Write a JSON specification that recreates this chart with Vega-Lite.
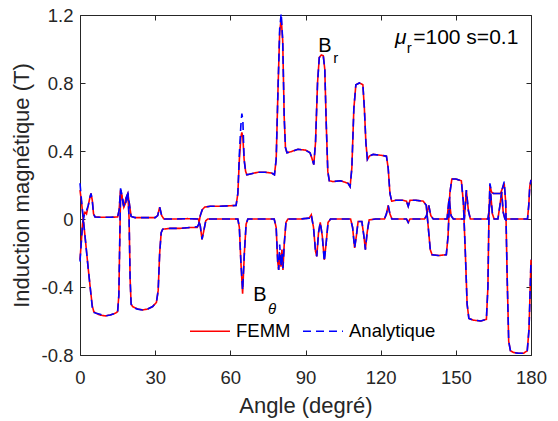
{
  "$schema": "https://vega.github.io/schema/vega-lite/v6.json",
  "width": 451,
  "height": 340,
  "autosize": {"type": "none"},
  "padding": {"left": 80, "top": 15, "right": 27, "bottom": 66},
  "background": "white",
  "config": {
    "font": "Liberation Sans",
    "view": {"stroke": null},
    "axis": {
      "grid": false,
      "domainColor": "#262626",
      "domainWidth": 1,
      "tickColor": "#262626",
      "tickWidth": 1,
      "tickSize": -5,
      "labelFlush": false,
      "labelColor": "#262626",
      "labelFontSize": 18.5,
      "labelFont": "Liberation Sans",
      "titleColor": "#262626",
      "titleFontSize": 22,
      "titleFontWeight": "normal",
      "titleFont": "Liberation Sans"
    },
    "legend": {
      "orient": "none",
      "legendX": 109,
      "legendY": 295,
      "direction": "horizontal",
      "symbolType": "stroke",
      "symbolSize": 1600,
      "symbolStrokeWidth": 1.6,
      "labelFontSize": 18.5,
      "labelColor": "#000000",
      "labelOffset": 5,
      "columnPadding": 8,
      "padding": 0
    }
  },
  "datasets": {
    "curves": [
      {"angle": 0, "comp": "Br", "FEMM": 0.17, "Analytique": 0.21},
      {"angle": 0.6, "comp": "Br", "FEMM": 0.1, "Analytique": 0.11},
      {"angle": 1.3, "comp": "Br", "FEMM": 0.0, "Analytique": 0.0},
      {"angle": 2.2, "comp": "Br", "FEMM": -0.13, "Analytique": -0.13},
      {"angle": 3.2, "comp": "Br", "FEMM": -0.28, "Analytique": -0.28},
      {"angle": 4.2, "comp": "Br", "FEMM": -0.42, "Analytique": -0.42},
      {"angle": 4.9, "comp": "Br", "FEMM": -0.51, "Analytique": -0.52},
      {"angle": 5.5, "comp": "Br", "FEMM": -0.545, "Analytique": -0.55},
      {"angle": 6.5, "comp": "Br", "FEMM": -0.555, "Analytique": -0.555},
      {"angle": 8, "comp": "Br", "FEMM": -0.565, "Analytique": -0.56},
      {"angle": 10, "comp": "Br", "FEMM": -0.57, "Analytique": -0.57},
      {"angle": 12, "comp": "Br", "FEMM": -0.565, "Analytique": -0.565},
      {"angle": 14, "comp": "Br", "FEMM": -0.555, "Analytique": -0.555},
      {"angle": 15.0, "comp": "Br", "FEMM": -0.545, "Analytique": -0.55},
      {"angle": 15.5, "comp": "Br", "FEMM": -0.45, "Analytique": -0.45},
      {"angle": 15.9, "comp": "Br", "FEMM": -0.1, "Analytique": -0.1},
      {"angle": 16.2, "comp": "Br", "FEMM": 0.15, "Analytique": 0.17},
      {"angle": 16.6, "comp": "Br", "FEMM": 0.14, "Analytique": 0.15},
      {"angle": 17.5, "comp": "Br", "FEMM": 0.07, "Analytique": 0.07},
      {"angle": 18.3, "comp": "Br", "FEMM": 0.1, "Analytique": 0.1},
      {"angle": 19.1, "comp": "Br", "FEMM": 0.15, "Analytique": 0.16},
      {"angle": 19.6, "comp": "Br", "FEMM": 0.0, "Analytique": 0.0},
      {"angle": 20.0, "comp": "Br", "FEMM": -0.35, "Analytique": -0.35},
      {"angle": 20.4, "comp": "Br", "FEMM": -0.5, "Analytique": -0.5},
      {"angle": 21, "comp": "Br", "FEMM": -0.515, "Analytique": -0.52},
      {"angle": 23, "comp": "Br", "FEMM": -0.53, "Analytique": -0.53},
      {"angle": 25, "comp": "Br", "FEMM": -0.535, "Analytique": -0.535},
      {"angle": 27, "comp": "Br", "FEMM": -0.53, "Analytique": -0.53},
      {"angle": 29, "comp": "Br", "FEMM": -0.515, "Analytique": -0.515},
      {"angle": 30.5, "comp": "Br", "FEMM": -0.49, "Analytique": -0.49},
      {"angle": 31.2, "comp": "Br", "FEMM": -0.42, "Analytique": -0.42},
      {"angle": 31.8, "comp": "Br", "FEMM": -0.2, "Analytique": -0.2},
      {"angle": 32.4, "comp": "Br", "FEMM": -0.08, "Analytique": -0.08},
      {"angle": 33, "comp": "Br", "FEMM": -0.06, "Analytique": -0.06},
      {"angle": 36, "comp": "Br", "FEMM": -0.055, "Analytique": -0.055},
      {"angle": 40, "comp": "Br", "FEMM": -0.055, "Analytique": -0.055},
      {"angle": 44, "comp": "Br", "FEMM": -0.05, "Analytique": -0.05},
      {"angle": 46.8, "comp": "Br", "FEMM": -0.05, "Analytique": -0.045},
      {"angle": 47.4, "comp": "Br", "FEMM": -0.03, "Analytique": -0.03},
      {"angle": 48.0, "comp": "Br", "FEMM": 0.02, "Analytique": 0.02},
      {"angle": 48.8, "comp": "Br", "FEMM": 0.055, "Analytique": 0.055},
      {"angle": 49.8, "comp": "Br", "FEMM": 0.07, "Analytique": 0.07},
      {"angle": 52, "comp": "Br", "FEMM": 0.075, "Analytique": 0.075},
      {"angle": 56, "comp": "Br", "FEMM": 0.075, "Analytique": 0.075},
      {"angle": 60, "comp": "Br", "FEMM": 0.078, "Analytique": 0.078},
      {"angle": 62.3, "comp": "Br", "FEMM": 0.08, "Analytique": 0.08},
      {"angle": 63.0, "comp": "Br", "FEMM": 0.15, "Analytique": 0.15},
      {"angle": 63.6, "comp": "Br", "FEMM": 0.35, "Analytique": 0.38},
      {"angle": 64.2, "comp": "Br", "FEMM": 0.48, "Analytique": 0.55},
      {"angle": 64.6, "comp": "Br", "FEMM": 0.51, "Analytique": 0.62},
      {"angle": 65.0, "comp": "Br", "FEMM": 0.48, "Analytique": 0.58},
      {"angle": 65.5, "comp": "Br", "FEMM": 0.35, "Analytique": 0.35},
      {"angle": 66.1, "comp": "Br", "FEMM": 0.28, "Analytique": 0.28},
      {"angle": 66.6, "comp": "Br", "FEMM": 0.26, "Analytique": 0.26},
      {"angle": 68, "comp": "Br", "FEMM": 0.265, "Analytique": 0.265},
      {"angle": 71, "comp": "Br", "FEMM": 0.275, "Analytique": 0.275},
      {"angle": 74, "comp": "Br", "FEMM": 0.275, "Analytique": 0.275},
      {"angle": 76.5, "comp": "Br", "FEMM": 0.27, "Analytique": 0.27},
      {"angle": 77.6, "comp": "Br", "FEMM": 0.26, "Analytique": 0.26},
      {"angle": 78.3, "comp": "Br", "FEMM": 0.35, "Analytique": 0.35},
      {"angle": 79.0, "comp": "Br", "FEMM": 0.75, "Analytique": 0.75},
      {"angle": 79.7, "comp": "Br", "FEMM": 1.1, "Analytique": 1.12},
      {"angle": 80.3, "comp": "Br", "FEMM": 1.18, "Analytique": 1.21},
      {"angle": 80.9, "comp": "Br", "FEMM": 1.05, "Analytique": 1.05},
      {"angle": 81.5, "comp": "Br", "FEMM": 0.6, "Analytique": 0.6},
      {"angle": 82.0, "comp": "Br", "FEMM": 0.42, "Analytique": 0.42},
      {"angle": 82.6, "comp": "Br", "FEMM": 0.39, "Analytique": 0.39},
      {"angle": 84, "comp": "Br", "FEMM": 0.395, "Analytique": 0.395},
      {"angle": 87, "comp": "Br", "FEMM": 0.41, "Analytique": 0.41},
      {"angle": 90, "comp": "Br", "FEMM": 0.405, "Analytique": 0.405},
      {"angle": 91.8, "comp": "Br", "FEMM": 0.39, "Analytique": 0.39},
      {"angle": 92.5, "comp": "Br", "FEMM": 0.36, "Analytique": 0.36},
      {"angle": 93.3, "comp": "Br", "FEMM": 0.32, "Analytique": 0.32},
      {"angle": 94.0, "comp": "Br", "FEMM": 0.45, "Analytique": 0.45},
      {"angle": 94.8, "comp": "Br", "FEMM": 0.8, "Analytique": 0.8},
      {"angle": 95.5, "comp": "Br", "FEMM": 0.95, "Analytique": 0.95},
      {"angle": 96.3, "comp": "Br", "FEMM": 0.965, "Analytique": 0.965},
      {"angle": 97.1, "comp": "Br", "FEMM": 0.96, "Analytique": 0.96},
      {"angle": 97.7, "comp": "Br", "FEMM": 0.88, "Analytique": 0.88},
      {"angle": 98.3, "comp": "Br", "FEMM": 0.55, "Analytique": 0.55},
      {"angle": 98.9, "comp": "Br", "FEMM": 0.28, "Analytique": 0.28},
      {"angle": 99.5, "comp": "Br", "FEMM": 0.225, "Analytique": 0.225},
      {"angle": 101, "comp": "Br", "FEMM": 0.22, "Analytique": 0.22},
      {"angle": 104, "comp": "Br", "FEMM": 0.225, "Analytique": 0.225},
      {"angle": 107, "comp": "Br", "FEMM": 0.21, "Analytique": 0.21},
      {"angle": 107.8, "comp": "Br", "FEMM": 0.19, "Analytique": 0.19},
      {"angle": 108.5, "comp": "Br", "FEMM": 0.3, "Analytique": 0.3},
      {"angle": 109.3, "comp": "Br", "FEMM": 0.65, "Analytique": 0.65},
      {"angle": 110.1, "comp": "Br", "FEMM": 0.79, "Analytique": 0.79},
      {"angle": 111.5, "comp": "Br", "FEMM": 0.8, "Analytique": 0.8},
      {"angle": 112.9, "comp": "Br", "FEMM": 0.79, "Analytique": 0.79},
      {"angle": 113.5, "comp": "Br", "FEMM": 0.65, "Analytique": 0.65},
      {"angle": 114.1, "comp": "Br", "FEMM": 0.45, "Analytique": 0.45},
      {"angle": 114.7, "comp": "Br", "FEMM": 0.35, "Analytique": 0.35},
      {"angle": 115.5, "comp": "Br", "FEMM": 0.37, "Analytique": 0.37},
      {"angle": 117, "comp": "Br", "FEMM": 0.38, "Analytique": 0.38},
      {"angle": 120, "comp": "Br", "FEMM": 0.375, "Analytique": 0.375},
      {"angle": 122.3, "comp": "Br", "FEMM": 0.37, "Analytique": 0.37},
      {"angle": 123.0, "comp": "Br", "FEMM": 0.3, "Analytique": 0.3},
      {"angle": 123.7, "comp": "Br", "FEMM": 0.15, "Analytique": 0.15},
      {"angle": 124.4, "comp": "Br", "FEMM": 0.105, "Analytique": 0.105},
      {"angle": 126, "comp": "Br", "FEMM": 0.11, "Analytique": 0.11},
      {"angle": 129, "comp": "Br", "FEMM": 0.11, "Analytique": 0.11},
      {"angle": 130.3, "comp": "Br", "FEMM": 0.105, "Analytique": 0.105},
      {"angle": 131.0, "comp": "Br", "FEMM": 0.075, "Analytique": 0.075},
      {"angle": 131.7, "comp": "Br", "FEMM": 0.11, "Analytique": 0.11},
      {"angle": 134, "comp": "Br", "FEMM": 0.11, "Analytique": 0.11},
      {"angle": 137, "comp": "Br", "FEMM": 0.105, "Analytique": 0.105},
      {"angle": 138.2, "comp": "Br", "FEMM": 0.08, "Analytique": 0.08},
      {"angle": 139.0, "comp": "Br", "FEMM": -0.05, "Analytique": -0.05},
      {"angle": 139.8, "comp": "Br", "FEMM": -0.18, "Analytique": -0.18},
      {"angle": 140.5, "comp": "Br", "FEMM": -0.21, "Analytique": -0.21},
      {"angle": 143, "comp": "Br", "FEMM": -0.215, "Analytique": -0.215},
      {"angle": 146.2, "comp": "Br", "FEMM": -0.21, "Analytique": -0.21},
      {"angle": 146.9, "comp": "Br", "FEMM": -0.1, "Analytique": -0.1},
      {"angle": 147.6, "comp": "Br", "FEMM": 0.15, "Analytique": 0.15},
      {"angle": 148.4, "comp": "Br", "FEMM": 0.235, "Analytique": 0.235},
      {"angle": 150, "comp": "Br", "FEMM": 0.235, "Analytique": 0.235},
      {"angle": 152.2, "comp": "Br", "FEMM": 0.225, "Analytique": 0.225},
      {"angle": 153.0, "comp": "Br", "FEMM": 0.1, "Analytique": 0.1},
      {"angle": 153.8, "comp": "Br", "FEMM": -0.2, "Analytique": -0.2},
      {"angle": 154.5, "comp": "Br", "FEMM": -0.5, "Analytique": -0.5},
      {"angle": 155.2, "comp": "Br", "FEMM": -0.585, "Analytique": -0.585},
      {"angle": 157, "comp": "Br", "FEMM": -0.595, "Analytique": -0.595},
      {"angle": 160, "comp": "Br", "FEMM": -0.6, "Analytique": -0.6},
      {"angle": 162.2, "comp": "Br", "FEMM": -0.59, "Analytique": -0.59},
      {"angle": 162.8, "comp": "Br", "FEMM": -0.4, "Analytique": -0.4},
      {"angle": 163.2, "comp": "Br", "FEMM": 0.0, "Analytique": 0.0},
      {"angle": 163.6, "comp": "Br", "FEMM": 0.2, "Analytique": 0.21},
      {"angle": 164.2, "comp": "Br", "FEMM": 0.16, "Analytique": 0.16},
      {"angle": 165, "comp": "Br", "FEMM": 0.15, "Analytique": 0.15},
      {"angle": 166.5, "comp": "Br", "FEMM": 0.15, "Analytique": 0.15},
      {"angle": 167.8, "comp": "Br", "FEMM": 0.15, "Analytique": 0.15},
      {"angle": 168.6, "comp": "Br", "FEMM": 0.18, "Analytique": 0.18},
      {"angle": 169.3, "comp": "Br", "FEMM": 0.21, "Analytique": 0.22},
      {"angle": 169.9, "comp": "Br", "FEMM": 0.1, "Analytique": 0.1},
      {"angle": 170.5, "comp": "Br", "FEMM": -0.35, "Analytique": -0.35},
      {"angle": 171.1, "comp": "Br", "FEMM": -0.72, "Analytique": -0.72},
      {"angle": 171.8, "comp": "Br", "FEMM": -0.775, "Analytique": -0.775},
      {"angle": 173, "comp": "Br", "FEMM": -0.785, "Analytique": -0.785},
      {"angle": 175, "comp": "Br", "FEMM": -0.79, "Analytique": -0.79},
      {"angle": 177, "comp": "Br", "FEMM": -0.79, "Analytique": -0.79},
      {"angle": 178.5, "comp": "Br", "FEMM": -0.775, "Analytique": -0.775},
      {"angle": 179.2, "comp": "Br", "FEMM": -0.65, "Analytique": -0.65},
      {"angle": 179.6, "comp": "Br", "FEMM": -0.45, "Analytique": -0.45},
      {"angle": 180, "comp": "Br", "FEMM": -0.24, "Analytique": -0.24},
      {"angle": 0, "comp": "Bt", "FEMM": -0.24, "Analytique": -0.25},
      {"angle": 0.5, "comp": "Bt", "FEMM": -0.14, "Analytique": -0.14},
      {"angle": 1.0, "comp": "Bt", "FEMM": -0.03, "Analytique": -0.03},
      {"angle": 1.5, "comp": "Bt", "FEMM": 0.02, "Analytique": 0.01},
      {"angle": 2.0, "comp": "Bt", "FEMM": 0.04, "Analytique": 0.04},
      {"angle": 2.6, "comp": "Bt", "FEMM": 0.03, "Analytique": 0.05},
      {"angle": 3.3, "comp": "Bt", "FEMM": 0.08, "Analytique": 0.08},
      {"angle": 4.0, "comp": "Bt", "FEMM": 0.13, "Analytique": 0.13},
      {"angle": 4.4, "comp": "Bt", "FEMM": 0.15, "Analytique": 0.15},
      {"angle": 4.9, "comp": "Bt", "FEMM": 0.11, "Analytique": 0.11},
      {"angle": 5.4, "comp": "Bt", "FEMM": 0.03, "Analytique": 0.03},
      {"angle": 6.0, "comp": "Bt", "FEMM": 0.012, "Analytique": 0.012},
      {"angle": 9, "comp": "Bt", "FEMM": 0.01, "Analytique": 0.01},
      {"angle": 12, "comp": "Bt", "FEMM": 0.01, "Analytique": 0.01},
      {"angle": 15, "comp": "Bt", "FEMM": 0.012, "Analytique": 0.012},
      {"angle": 15.6, "comp": "Bt", "FEMM": 0.05, "Analytique": 0.05},
      {"angle": 16.2, "comp": "Bt", "FEMM": 0.17, "Analytique": 0.18},
      {"angle": 16.7, "comp": "Bt", "FEMM": 0.14, "Analytique": 0.14},
      {"angle": 17.5, "comp": "Bt", "FEMM": 0.07, "Analytique": 0.08},
      {"angle": 18.3, "comp": "Bt", "FEMM": 0.12, "Analytique": 0.12},
      {"angle": 19.1, "comp": "Bt", "FEMM": 0.15, "Analytique": 0.15},
      {"angle": 19.7, "comp": "Bt", "FEMM": 0.09, "Analytique": 0.09},
      {"angle": 20.4, "comp": "Bt", "FEMM": 0.015, "Analytique": 0.015},
      {"angle": 22, "comp": "Bt", "FEMM": 0.008, "Analytique": 0.008},
      {"angle": 26, "comp": "Bt", "FEMM": 0.008, "Analytique": 0.008},
      {"angle": 30, "comp": "Bt", "FEMM": 0.008, "Analytique": 0.008},
      {"angle": 31.0, "comp": "Bt", "FEMM": 0.02, "Analytique": 0.02},
      {"angle": 31.8, "comp": "Bt", "FEMM": 0.07, "Analytique": 0.07},
      {"angle": 32.6, "comp": "Bt", "FEMM": 0.02, "Analytique": 0.02},
      {"angle": 33.5, "comp": "Bt", "FEMM": 0.0, "Analytique": 0.0},
      {"angle": 38, "comp": "Bt", "FEMM": 0.0, "Analytique": 0.0},
      {"angle": 43, "comp": "Bt", "FEMM": 0.002, "Analytique": 0.002},
      {"angle": 47.2, "comp": "Bt", "FEMM": 0.0, "Analytique": 0.0},
      {"angle": 48.0, "comp": "Bt", "FEMM": -0.04, "Analytique": -0.04},
      {"angle": 48.7, "comp": "Bt", "FEMM": -0.12, "Analytique": -0.12},
      {"angle": 49.4, "comp": "Bt", "FEMM": -0.07, "Analytique": -0.07},
      {"angle": 50.2, "comp": "Bt", "FEMM": -0.01, "Analytique": -0.01},
      {"angle": 51, "comp": "Bt", "FEMM": 0.0, "Analytique": 0.0},
      {"angle": 57, "comp": "Bt", "FEMM": 0.0, "Analytique": 0.0},
      {"angle": 63, "comp": "Bt", "FEMM": 0.0, "Analytique": 0.0},
      {"angle": 63.6, "comp": "Bt", "FEMM": -0.05, "Analytique": -0.05},
      {"angle": 64.2, "comp": "Bt", "FEMM": -0.25, "Analytique": -0.25},
      {"angle": 64.9, "comp": "Bt", "FEMM": -0.44, "Analytique": -0.42},
      {"angle": 65.6, "comp": "Bt", "FEMM": -0.2, "Analytique": -0.2},
      {"angle": 66.3, "comp": "Bt", "FEMM": -0.03, "Analytique": -0.03},
      {"angle": 67, "comp": "Bt", "FEMM": 0.0, "Analytique": 0.0},
      {"angle": 72, "comp": "Bt", "FEMM": 0.0, "Analytique": 0.0},
      {"angle": 77.5, "comp": "Bt", "FEMM": 0.0, "Analytique": 0.0},
      {"angle": 78.3, "comp": "Bt", "FEMM": -0.05, "Analytique": -0.05},
      {"angle": 78.9, "comp": "Bt", "FEMM": -0.25, "Analytique": -0.25},
      {"angle": 79.3, "comp": "Bt", "FEMM": -0.3, "Analytique": -0.3},
      {"angle": 79.7, "comp": "Bt", "FEMM": -0.2, "Analytique": -0.15},
      {"angle": 80.2, "comp": "Bt", "FEMM": -0.28, "Analytique": -0.28},
      {"angle": 80.6, "comp": "Bt", "FEMM": -0.18, "Analytique": -0.2},
      {"angle": 81.0, "comp": "Bt", "FEMM": -0.3, "Analytique": -0.29},
      {"angle": 81.5, "comp": "Bt", "FEMM": -0.15, "Analytique": -0.15},
      {"angle": 82.2, "comp": "Bt", "FEMM": -0.02, "Analytique": -0.02},
      {"angle": 83, "comp": "Bt", "FEMM": 0.0, "Analytique": 0.0},
      {"angle": 88, "comp": "Bt", "FEMM": 0.0, "Analytique": 0.0},
      {"angle": 91.5, "comp": "Bt", "FEMM": 0.005, "Analytique": 0.005},
      {"angle": 92.3, "comp": "Bt", "FEMM": 0.025, "Analytique": 0.025},
      {"angle": 93.2, "comp": "Bt", "FEMM": -0.05, "Analytique": -0.05},
      {"angle": 94.0, "comp": "Bt", "FEMM": -0.19, "Analytique": -0.19},
      {"angle": 94.5, "comp": "Bt", "FEMM": -0.22, "Analytique": -0.22},
      {"angle": 95.2, "comp": "Bt", "FEMM": -0.08, "Analytique": -0.08},
      {"angle": 95.9, "comp": "Bt", "FEMM": -0.02, "Analytique": -0.02},
      {"angle": 96.7, "comp": "Bt", "FEMM": -0.1, "Analytique": -0.1},
      {"angle": 97.5, "comp": "Bt", "FEMM": -0.24, "Analytique": -0.25},
      {"angle": 98.2, "comp": "Bt", "FEMM": -0.15, "Analytique": -0.15},
      {"angle": 99.0, "comp": "Bt", "FEMM": -0.02, "Analytique": -0.02},
      {"angle": 100, "comp": "Bt", "FEMM": 0.0, "Analytique": 0.0},
      {"angle": 108, "comp": "Bt", "FEMM": 0.0, "Analytique": 0.0},
      {"angle": 108.8, "comp": "Bt", "FEMM": -0.05, "Analytique": -0.05},
      {"angle": 109.6, "comp": "Bt", "FEMM": -0.17, "Analytique": -0.17},
      {"angle": 110.3, "comp": "Bt", "FEMM": -0.1, "Analytique": -0.1},
      {"angle": 111.0, "comp": "Bt", "FEMM": -0.015, "Analytique": -0.015},
      {"angle": 112.5, "comp": "Bt", "FEMM": -0.015, "Analytique": -0.015},
      {"angle": 113.3, "comp": "Bt", "FEMM": -0.1, "Analytique": -0.1},
      {"angle": 113.9, "comp": "Bt", "FEMM": -0.18, "Analytique": -0.18},
      {"angle": 114.6, "comp": "Bt", "FEMM": -0.08, "Analytique": -0.08},
      {"angle": 115.4, "comp": "Bt", "FEMM": -0.005, "Analytique": -0.005},
      {"angle": 118, "comp": "Bt", "FEMM": 0.0, "Analytique": 0.0},
      {"angle": 121.5, "comp": "Bt", "FEMM": 0.0, "Analytique": 0.0},
      {"angle": 122.3, "comp": "Bt", "FEMM": 0.03, "Analytique": 0.03},
      {"angle": 123.0, "comp": "Bt", "FEMM": 0.08, "Analytique": 0.08},
      {"angle": 123.7, "comp": "Bt", "FEMM": 0.03, "Analytique": 0.03},
      {"angle": 124.5, "comp": "Bt", "FEMM": 0.0, "Analytique": 0.0},
      {"angle": 128, "comp": "Bt", "FEMM": 0.0, "Analytique": 0.0},
      {"angle": 130.3, "comp": "Bt", "FEMM": 0.0, "Analytique": 0.0},
      {"angle": 131.0, "comp": "Bt", "FEMM": -0.02, "Analytique": -0.02},
      {"angle": 131.7, "comp": "Bt", "FEMM": 0.0, "Analytique": 0.0},
      {"angle": 137.5, "comp": "Bt", "FEMM": 0.0, "Analytique": 0.0},
      {"angle": 138.3, "comp": "Bt", "FEMM": 0.02, "Analytique": 0.02},
      {"angle": 139.2, "comp": "Bt", "FEMM": 0.08, "Analytique": 0.08},
      {"angle": 140.0, "comp": "Bt", "FEMM": 0.02, "Analytique": 0.02},
      {"angle": 141, "comp": "Bt", "FEMM": 0.0, "Analytique": 0.0},
      {"angle": 146.5, "comp": "Bt", "FEMM": 0.0, "Analytique": 0.0},
      {"angle": 147.3, "comp": "Bt", "FEMM": 0.12, "Analytique": 0.12},
      {"angle": 148.1, "comp": "Bt", "FEMM": 0.02, "Analytique": 0.02},
      {"angle": 149, "comp": "Bt", "FEMM": 0.0, "Analytique": 0.0},
      {"angle": 153.4, "comp": "Bt", "FEMM": 0.0, "Analytique": 0.0},
      {"angle": 154.2, "comp": "Bt", "FEMM": 0.17, "Analytique": 0.17},
      {"angle": 155.0, "comp": "Bt", "FEMM": 0.05, "Analytique": 0.05},
      {"angle": 155.8, "comp": "Bt", "FEMM": 0.0, "Analytique": 0.0},
      {"angle": 162.8, "comp": "Bt", "FEMM": 0.0, "Analytique": 0.0},
      {"angle": 163.3, "comp": "Bt", "FEMM": 0.05, "Analytique": 0.05},
      {"angle": 163.9, "comp": "Bt", "FEMM": 0.15, "Analytique": 0.15},
      {"angle": 164.6, "comp": "Bt", "FEMM": 0.03, "Analytique": 0.03},
      {"angle": 165.3, "comp": "Bt", "FEMM": 0.0, "Analytique": 0.0},
      {"angle": 166.8, "comp": "Bt", "FEMM": 0.0, "Analytique": 0.0},
      {"angle": 167.6, "comp": "Bt", "FEMM": 0.08, "Analytique": 0.08},
      {"angle": 168.3, "comp": "Bt", "FEMM": 0.16, "Analytique": 0.16},
      {"angle": 168.9, "comp": "Bt", "FEMM": 0.04, "Analytique": 0.04},
      {"angle": 169.6, "comp": "Bt", "FEMM": 0.0, "Analytique": 0.0},
      {"angle": 178.6, "comp": "Bt", "FEMM": 0.0, "Analytique": 0.0},
      {"angle": 179.1, "comp": "Bt", "FEMM": 0.08, "Analytique": 0.08},
      {"angle": 179.5, "comp": "Bt", "FEMM": 0.19, "Analytique": 0.19},
      {"angle": 180, "comp": "Bt", "FEMM": 0.23, "Analytique": 0.23}
    ]
  },
  "layer": [
    {
      "data": {"name": "curves"},
      "transform": [
        {"fold": ["FEMM", "Analytique"], "as": ["source", "value"]},
        {"filter": "datum.source === 'FEMM'"}
      ],
      "mark": {"type": "line", "strokeWidth": 1.6, "interpolate": "linear"},
      "encoding": {
        "x": {"field": "angle", "type": "quantitative", "scale": {"domain": [0, 180], "nice": false},
              "axis": {"orient": "bottom", "values": [0, 30, 60, 90, 120, 150, 180], "title": "Angle (degré)", "labelPadding": 18, "titlePadding": 9}},
        "y": {"field": "value", "type": "quantitative", "scale": {"domain": [-0.8, 1.2], "nice": false, "zero": false},
              "axis": {"orient": "left", "values": [-0.8, -0.4, 0, 0.4, 0.8, 1.2], "title": "Induction magnétique (T)", "labelExpr": "replace(format(datum.value, '.1~f'), '\u2212', '-')", "labelPadding": 12, "titlePadding": 8}},
        "color": {"field": "source", "type": "nominal", "scale": {"domain": ["FEMM", "Analytique"], "range": ["#ff0000", "#0000ff"]}, "legend": {"title": null}},
        "strokeDash": {"field": "source", "type": "nominal", "scale": {"domain": ["FEMM", "Analytique"], "range": [[1, 0], [8, 5]]}, "legend": {"title": null}},
        "detail": {"field": "comp"},
        "order": {"field": "angle", "type": "quantitative"}
      }
    },
    {
      "data": {"name": "curves"},
      "transform": [
        {"fold": ["FEMM", "Analytique"], "as": ["source", "value"]},
        {"filter": "datum.source === 'Analytique'"}
      ],
      "mark": {"type": "line", "strokeWidth": 1.6, "interpolate": "linear"},
      "encoding": {
        "x": {"field": "angle", "type": "quantitative",
              "axis": {"orient": "top", "values": [0, 30, 60, 90, 120, 150, 180], "labels": false, "title": null}},
        "y": {"field": "value", "type": "quantitative",
              "axis": {"orient": "right", "values": [-0.8, -0.4, 0, 0.4, 0.8, 1.2], "labels": false, "title": null}},
        "color": {"field": "source", "type": "nominal"},
        "strokeDash": {"field": "source", "type": "nominal"},
        "detail": {"field": "comp"},
        "order": {"field": "angle", "type": "quantitative"}
      }
    },
    {
      "data": {"values": [{"angle": 95.1, "value": 0.984, "label": "B"}, {"angle": 69.1, "value": -0.482, "label": "B"}]},
      "mark": {"type": "text", "fontSize": 20, "align": "left", "baseline": "alphabetic", "color": "#000000"},
      "encoding": {
        "x": {"field": "angle", "type": "quantitative", "axis": null},
        "y": {"field": "value", "type": "quantitative", "axis": null},
        "text": {"field": "label"}
      }
    },
    {
      "data": {"values": [{"angle": 101.1, "value": 0.919, "label": "r"}, {"angle": 130.4, "value": 0.976, "label": "r"}]},
      "mark": {"type": "text", "fontSize": 15, "align": "left", "baseline": "alphabetic", "color": "#000000"},
      "encoding": {
        "x": {"field": "angle", "type": "quantitative", "axis": null},
        "y": {"field": "value", "type": "quantitative", "axis": null},
        "text": {"field": "label"}
      }
    },
    {
      "data": {"values": [{"angle": 75.0, "value": -0.559, "label": "θ"}]},
      "mark": {"type": "text", "fontSize": 15, "fontStyle": "italic", "align": "left", "baseline": "alphabetic", "color": "#000000"},
      "encoding": {
        "x": {"field": "angle", "type": "quantitative", "axis": null},
        "y": {"field": "value", "type": "quantitative", "axis": null},
        "text": {"field": "label"}
      }
    },
    {
      "data": {"values": [{"angle": 125.7, "value": 1.028, "label": "μ"}]},
      "mark": {"type": "text", "fontSize": 21, "fontStyle": "italic", "align": "left", "baseline": "alphabetic", "color": "#000000"},
      "encoding": {
        "x": {"field": "angle", "type": "quantitative", "axis": null},
        "y": {"field": "value", "type": "quantitative", "axis": null},
        "text": {"field": "label"}
      }
    },
    {
      "data": {"values": [{"angle": 133.0, "value": 1.028, "label": "=100 s=0.1"}]},
      "mark": {"type": "text", "fontSize": 21, "align": "left", "baseline": "alphabetic", "color": "#000000"},
      "encoding": {
        "x": {"field": "angle", "type": "quantitative", "axis": null},
        "y": {"field": "value", "type": "quantitative", "axis": null},
        "text": {"field": "label"}
      }
    }
  ],
  "resolve": {"axis": {"x": "independent", "y": "independent"}}
}
